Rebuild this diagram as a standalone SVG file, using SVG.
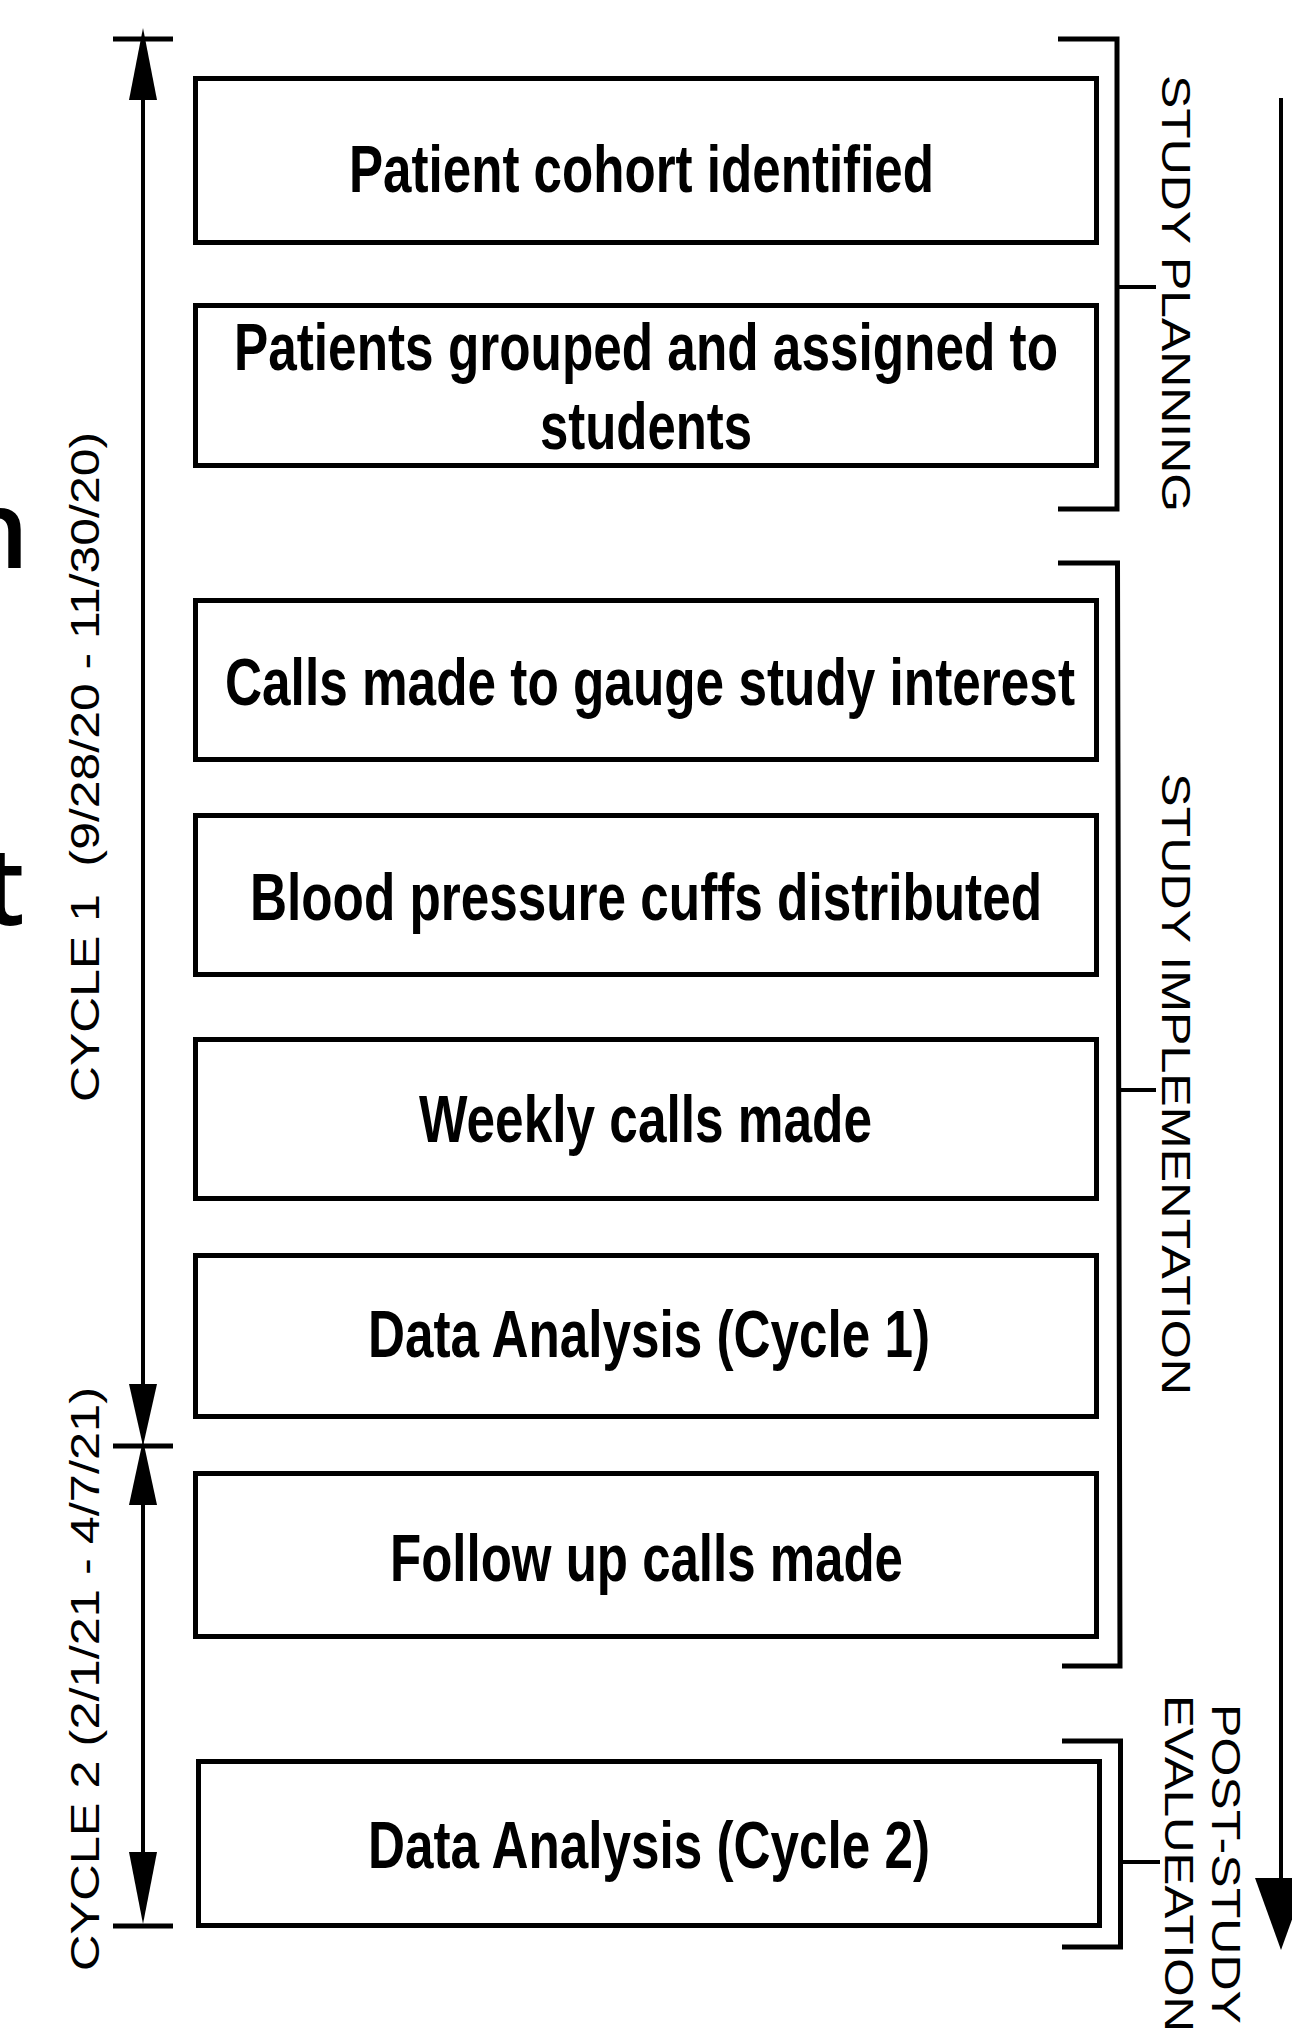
<svg xmlns="http://www.w3.org/2000/svg" width="1292" height="2040" viewBox="0 0 1292 2040">
<style>
.box{fill:#fff;stroke:#000;stroke-width:5}
.lbl{font-family:"Liberation Sans Narrow","Liberation Sans",Arial,sans-serif;font-weight:bold;font-size:67px;fill:#000;text-anchor:middle}
.side{font-family:"Liberation Sans",Arial,sans-serif;font-size:40px;fill:#000}
.ln{stroke:#000;fill:none}
.head{fill:#000}
.stray{font-family:"Open Sans","Noto Sans",sans-serif;font-weight:600;font-size:108px;fill:#000;text-anchor:end}
</style>
<rect x="0" y="0" width="1292" height="2040" fill="#fff"/>

<text class="stray" x="29" y="568">n</text>
<text class="stray" x="25" y="925">t</text>

<g id="node-1"><rect class="box" x="195.5" y="78.5" width="901" height="164"/><text class="lbl" x="641.5" y="192" textLength="585" lengthAdjust="spacingAndGlyphs">Patient cohort identified</text></g>
<g id="node-2"><rect class="box" x="195.5" y="305.5" width="901" height="160"/><text class="lbl" x="646" y="370" textLength="824" lengthAdjust="spacingAndGlyphs">Patients grouped and assigned to</text><text class="lbl" x="646" y="449" textLength="212" lengthAdjust="spacingAndGlyphs">students</text></g>
<g id="node-3"><rect class="box" x="195.5" y="600.5" width="901" height="159"/><text class="lbl" x="650" y="705" textLength="850" lengthAdjust="spacingAndGlyphs">Calls made to gauge study interest</text></g>
<g id="node-4"><rect class="box" x="195.5" y="815.5" width="901" height="159"/><text class="lbl" x="646" y="920" textLength="792" lengthAdjust="spacingAndGlyphs">Blood pressure cuffs distributed</text></g>
<g id="node-5"><rect class="box" x="195.5" y="1039.5" width="901" height="159"/><text class="lbl" x="645.5" y="1142" textLength="453" lengthAdjust="spacingAndGlyphs">Weekly calls made</text></g>
<g id="node-6"><rect class="box" x="195.5" y="1255.5" width="901" height="161"/><text class="lbl" x="649" y="1357" textLength="562" lengthAdjust="spacingAndGlyphs">Data Analysis (Cycle 1)</text></g>
<g id="node-7"><rect class="box" x="195.5" y="1473.5" width="901" height="163"/><text class="lbl" x="646.5" y="1581" textLength="513" lengthAdjust="spacingAndGlyphs">Follow up calls made</text></g>
<g id="node-8"><rect class="box" x="198.5" y="1761.5" width="901" height="164"/><text class="lbl" x="649" y="1868" textLength="562" lengthAdjust="spacingAndGlyphs">Data Analysis (Cycle 2)</text></g>

<g id="connectors">
  <line class="ln" x1="113" y1="39" x2="173" y2="39" stroke-width="5"/>
  <line class="ln" x1="113" y1="1446" x2="173" y2="1446" stroke-width="5"/>
  <line class="ln" x1="113" y1="1926" x2="173" y2="1926" stroke-width="5"/>
  <line class="ln" x1="143" y1="95" x2="143" y2="1390" stroke-width="4"/>
  <line class="ln" x1="143" y1="1500" x2="143" y2="1858" stroke-width="4"/>
  <polygon class="head" points="143,28 157,100 129,100"/>
  <polygon class="head" points="129,1384 157,1384 143,1446"/>
  <polygon class="head" points="143,1440 157,1505 129,1505"/>
  <polygon class="head" points="129,1852 157,1852 143,1924"/>
  <line class="ln" x1="1281" y1="98" x2="1281" y2="1885" stroke-width="4"/>
  <polygon class="head" points="1255,1878 1307,1878 1281,1950"/>
  <path class="ln" d="M1058,39 H1117 V509 H1058" stroke-width="5"/>
  <path class="ln" d="M1117,287 H1156" stroke-width="4"/>
  <path class="ln" d="M1058,563 H1117.5 L1120,1666 H1062" stroke-width="5"/>
  <path class="ln" d="M1119,1090 H1156" stroke-width="4"/>
  <path class="ln" d="M1062,1741 H1120.5 V1947 H1062" stroke-width="5"/>
  <path class="ln" d="M1120.5,1862 H1160" stroke-width="4"/>
</g>

<g id="labels">
  <text class="side" transform="translate(1162,75) rotate(90)" textLength="437" lengthAdjust="spacingAndGlyphs">STUDY PLANNING</text>
  <text class="side" transform="translate(1162,773) rotate(90)" textLength="622" lengthAdjust="spacingAndGlyphs">STUDY IMPLEMENTATION</text>
  <text class="side" transform="translate(1165,1695) rotate(90)" textLength="337" lengthAdjust="spacingAndGlyphs">EVALUEATION</text>
  <text class="side" transform="translate(1212,1704) rotate(90)" textLength="320" lengthAdjust="spacingAndGlyphs">POST-STUDY</text>
  <text class="side" xml:space="preserve" transform="translate(99,1102) rotate(-90)" textLength="670" lengthAdjust="spacingAndGlyphs">CYCLE 1  (9/28/20 - 11/30/20)</text>
  <text class="side" transform="translate(99,1971) rotate(-90)" textLength="584" lengthAdjust="spacingAndGlyphs">CYCLE 2 (2/1/21 - 4/7/21)</text>
</g>
</svg>
